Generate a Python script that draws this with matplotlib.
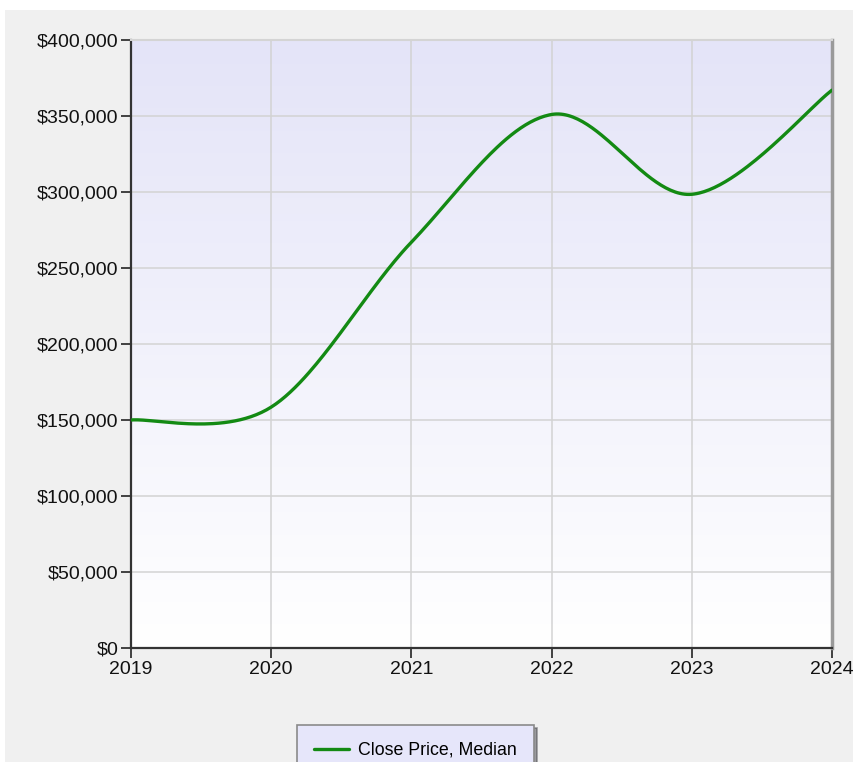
import numpy as np
import matplotlib
matplotlib.use("Agg")
import matplotlib.pyplot as plt
from matplotlib.patches import Rectangle
from matplotlib.ticker import FuncFormatter

# median close price per year
years = [2019, 2020, 2021, 2022, 2023, 2024]
close_median = [150000, 158500, 267000, 351000, 298500, 367000]
series_label = "Close Price, Median"


def cardinal_spline(xs, ys, tension=0.5, steps=60):
    # smooth line like the old .NET chart "Spline" series (bezier between points)
    p = np.column_stack([xs, ys]).astype(float)
    n = len(p)
    out = []
    for i in range(n - 1):
        p_prev = p[i - 1] if i > 0 else p[i]
        p_next = p[i + 2] if i + 2 < n else p[i + 1]
        c1 = p[i] + tension * (p[i + 1] - p_prev) / 3
        c2 = p[i + 1] - tension * (p_next - p[i]) / 3
        t = np.linspace(0, 1, steps)[:, None]
        seg = ((1 - t) ** 3 * p[i] + 3 * (1 - t) ** 2 * t * c1
               + 3 * (1 - t) * t ** 2 * c2 + t ** 3 * p[i + 1])
        out.append(seg if i == 0 else seg[1:])
    out = np.vstack(out)
    return out[:, 0], out[:, 1]


fig = plt.figure(figsize=(8.54, 7.62), dpi=100, facecolor="white")
fig.patches.append(Rectangle((5 / 854, 0), 1, 1 - 10 / 762, transform=fig.transFigure,
                             facecolor="#f0f0f0", edgecolor="none", zorder=-10))

ax = fig.add_axes([131 / 854, 1 - 648 / 762, 701 / 854, 608 / 762])

# lavender (top) -> white (bottom) gradient
grad = np.linspace(0, 1, 256)[:, None]
cmap = matplotlib.colors.LinearSegmentedColormap.from_list("bg", ["#e4e4f8", "#ffffff"])
ax.imshow(grad, aspect="auto", cmap=cmap, extent=[0, 1, 0, 1], origin="upper",
          transform=ax.transAxes, zorder=0, interpolation="bicubic")
ax.set_xlim(years[0], years[-1])
ax.set_ylim(0, 400000)

ax.set_xticks(years)
ax.set_yticks(range(0, 400001, 50000))
ax.yaxis.set_major_formatter(FuncFormatter(lambda v, _: "${:,.0f}".format(v)))
ax.grid(True, color="#d3d3d3", linewidth=1.1, zorder=1)
ax.set_axisbelow(True)

sx, sy = cardinal_spline(years, close_median)
ax.plot(sx, sy, color="#138a13", linewidth=2.4, label=series_label, zorder=3,
        solid_capstyle="round")

for side in ["left", "bottom"]:
    ax.spines[side].set_color("#333333")
    ax.spines[side].set_linewidth(1.6)
ax.spines["top"].set_color("#d4d4d4")
ax.spines["top"].set_linewidth(1.5)
ax.spines["right"].set_color("#9a9a9a")
ax.spines["right"].set_linewidth(2.5)

ax.tick_params(direction="out", length=7, width=1.3, color="#333333",
               labelsize=14, labelcolor="#111111", pad=2)
for lab in ax.get_xticklabels():
    lab.set_fontfamily("Liberation Sans")
for lab in ax.get_yticklabels():
    lab.set_fontfamily("Liberation Sans")

leg = fig.legend(loc="upper left", bbox_to_anchor=(297 / 854, 1 - 725 / 762),
                 prop={"family": "Liberation Sans", "size": 12.8},
                 frameon=True, fancybox=False, shadow=True, borderpad=0.95,
                 handlelength=2.0, handletextpad=0.5, borderaxespad=0)
leg.get_frame().set_facecolor("#e6e6fa")
leg.get_frame().set_edgecolor("#8a8a8a")
leg.get_frame().set_linewidth(1.2)
leg.get_frame().set_alpha(1)

fig.savefig("out.png", dpi=100)
